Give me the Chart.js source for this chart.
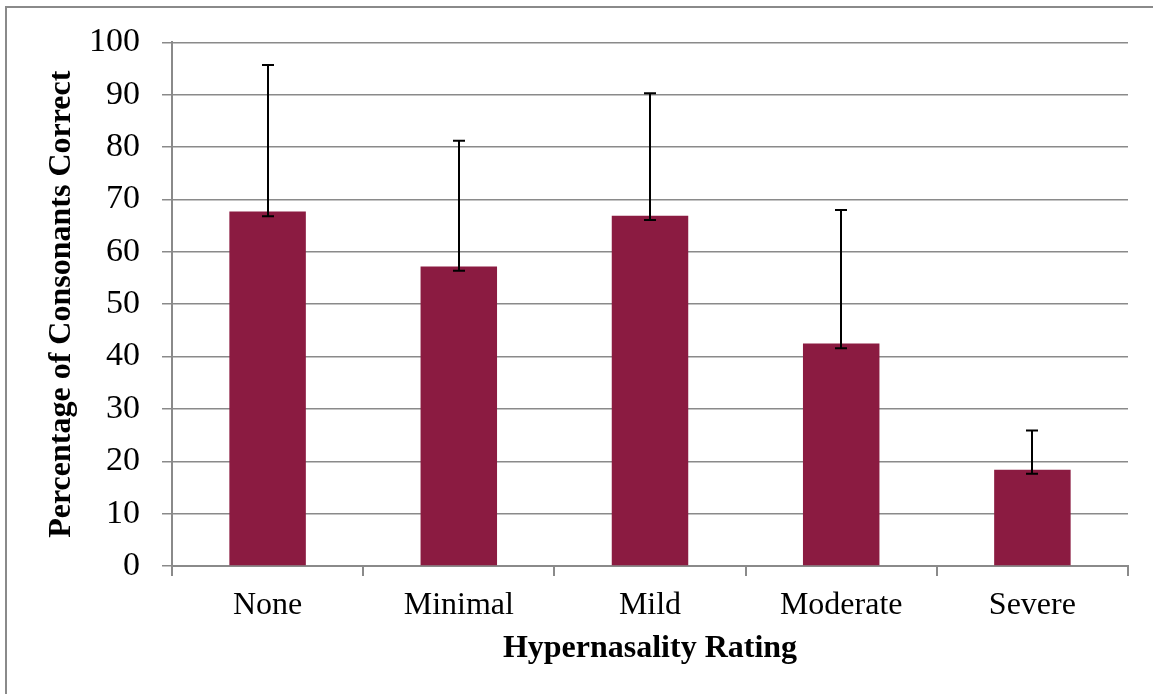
<!DOCTYPE html>
<html>
<head>
<meta charset="utf-8">
<script src="https://cdn.jsdelivr.net/npm/chart.js@4.4.0/dist/chart.umd.min.js"></script>
<style>
  html, body { margin: 0; padding: 0; background: #fff; overflow: hidden; }
  #frame { position: absolute; left: 5px; top: 6px; width: 1160px; height: 700px; border: 2px solid #8a8a8a; box-sizing: border-box; }
  #wrap { position: absolute; left: 0; top: 0; width: 1153px; height: 694px; }
</style>
</head>
<body>
<div id="frame"></div>
<div id="wrap"><canvas id="barChart"></canvas></div>
<script>
// values
var categories = ["None", "Minimal", "Mild", "Moderate", "Severe"];
var pcc = [67.7, 57.2, 66.9, 42.5, 18.4];
var errHigh = [95.7, 81.2, 90.3, 68.0, 25.9];
var errLow = [66.8, 56.4, 66.1, 41.6, 17.6];
var yTicks = [0, 10, 20, 30, 40, 50, 60, 70, 80, 90, 100];

var errorBars = {
  id: "errorBars",
  afterDatasetsDraw: function (chart) {
    var ctx = chart.ctx;
    var y = chart.scales.y;
    var meta = chart.getDatasetMeta(0);
    ctx.save();
    ctx.strokeStyle = "#000";
    ctx.lineWidth = 2;
    meta.data.forEach(function (bar, i) {
      var x = Math.round(bar.x);
      var top = y.getPixelForValue(errHigh[i]);
      var bot = y.getPixelForValue(errLow[i]);
      ctx.beginPath();
      ctx.moveTo(x, top);
      ctx.lineTo(x, bot);
      ctx.moveTo(x - 6, top);
      ctx.lineTo(x + 6, top);
      ctx.moveTo(x - 6, bot);
      ctx.lineTo(x + 6, bot);
      ctx.stroke();
    });
    ctx.restore();
  }
};

var serif = "'Liberation Serif', 'Times New Roman', serif";

var ctx = document.getElementById("barChart").getContext("2d");
var myChart = new Chart(ctx, {
  type: "bar",
  data: {
    labels: categories,
    datasets: [
      {
        label: "Percentage of Consonants Correct",
        data: pcc,
        backgroundColor: "#8b1b41",
        borderWidth: 0,
        barPercentage: 0.5,
        categoryPercentage: 0.8,
      },
    ],
  },
  options: {
    responsive: true,
    maintainAspectRatio: false,
    animation: false,
    layout: { padding: { top: 41, right: 25, left: 0, bottom: 0 } },
    plugins: {
      legend: { display: false },
      tooltip: { enabled: false },
    },
    scales: {
      x: {
        grid: { drawOnChartArea: false, color: "#8a8a8a", lineWidth: 2, tickLength: 10 },
        border: { color: "#8a8a8a", width: 2 },
        ticks: { color: "#000", font: { family: serif, size: 32 }, padding: 10 },
        title: {
          display: true,
          text: "Hypernasality Rating",
          color: "#000",
          font: { family: serif, size: 32, weight: "bold" },
          padding: { top: 0, bottom: 26 },
        },
        afterFit: function (s) { s.height = 128; },
      },
      y: {
        min: 0,
        max: 100,
        afterBuildTicks: function (s) {
          s.ticks = yTicks.map(function (v) { return { value: v }; });
        },
        grid: { color: "#8a8a8a", lineWidth: 1.5, tickLength: 10 },
        border: { color: "#8a8a8a", width: 2 },
        ticks: { color: "#000", font: { family: serif, size: 34 }, padding: 22 },
        title: {
          display: true,
          text: "Percentage of Consonants Correct",
          color: "#000",
          font: { family: serif, size: 32, weight: "bold" },
          padding: { top: 43, bottom: 0 },
        },
        afterFit: function (s) { s.width = 172; },
      },
    },
  },
  plugins: [errorBars],
});
</script>
</body>
</html>
